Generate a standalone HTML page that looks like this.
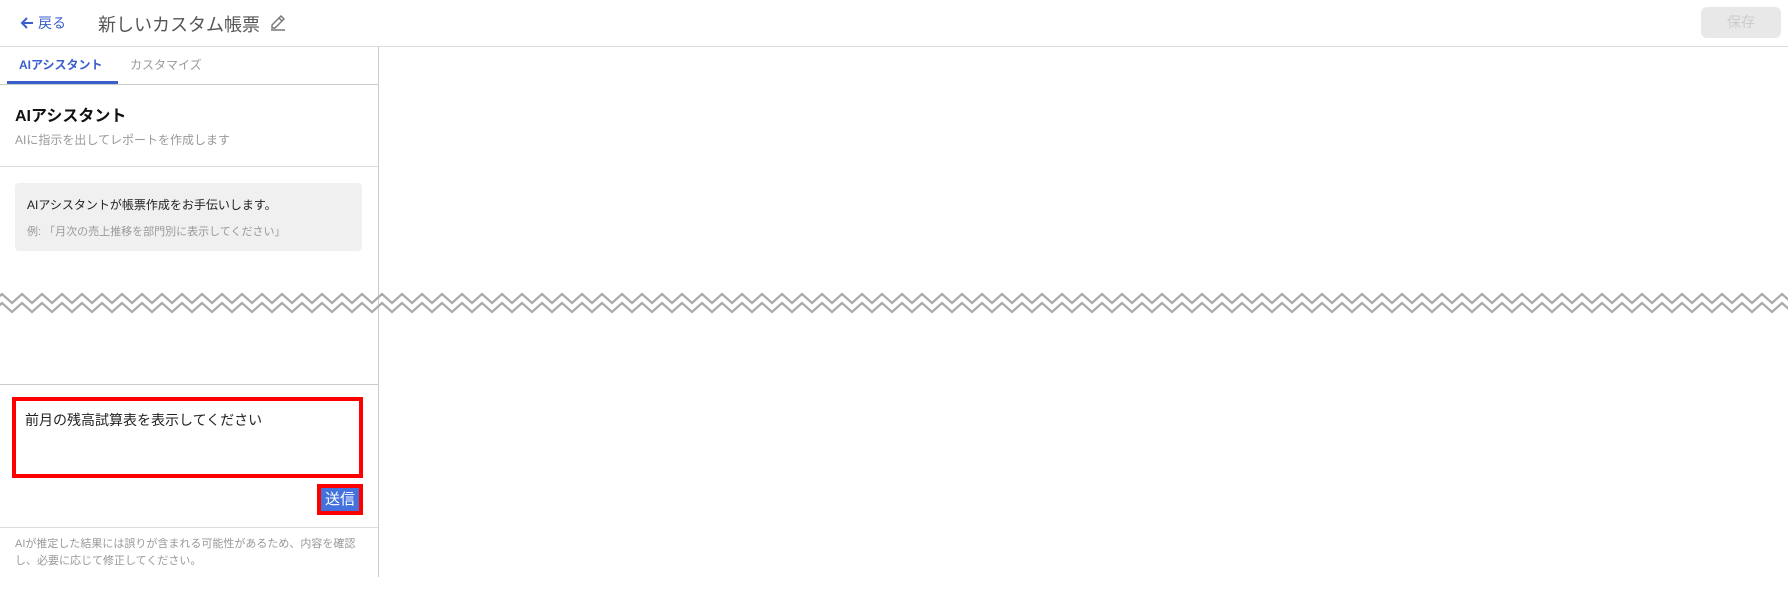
<!DOCTYPE html>
<html><head><meta charset="utf-8"><style>
*{margin:0;padding:0;box-sizing:border-box}
body{width:1788px;height:591px;background:#fff;position:relative;overflow:hidden;font-family:"Liberation Sans","Noto Sans CJK JP",sans-serif}
.a{position:absolute;white-space:nowrap}
</style></head><body>
<svg class="a" style="left:19px;top:15px" width="16" height="16" viewBox="0 0 16 16"><path d="M14 8 H3 M8 3 L3 8 L8 13" fill="none" stroke="#3a5fcd" stroke-width="2"/></svg>
<div class="a" style="left:38px;top:13px;font-size:14px;color:#3a5fcd">戻る</div>
<div class="a" style="left:98px;top:11px;font-size:18px;color:#555">新しいカスタム帳票</div>
<svg class="a" style="left:268px;top:13px" width="20" height="20" viewBox="0 0 20 20"><path d="M4 15 L4 12 L13 3 L16 6 L7 15 Z M11 5 L14 8 M3 17 L17 17" fill="none" stroke="#777" stroke-width="1.4"/></svg>
<div class="a" style="left:1701px;top:7px;width:80px;height:31px;background:#e8e8e8;border-radius:6px;color:#ccc;font-size:14px;text-align:center;line-height:31px">保存</div>
<div class="a" style="left:0;top:46px;width:1788px;height:1px;background:#ddd"></div>
<div class="a" style="left:378px;top:46px;width:1px;height:531px;background:#ccc"></div>
<div class="a" style="left:19px;top:56px;font-size:12px;font-weight:bold;color:#3a5fcd">AIアシスタント</div>
<div class="a" style="left:130px;top:56px;font-size:12px;color:#999">カスタマイズ</div>
<div class="a" style="left:0;top:84px;width:378px;height:1px;background:#ccc"></div>
<div class="a" style="left:7px;top:81px;width:111px;height:3px;background:#3a5fcd"></div>
<div class="a" style="left:15px;top:102px;font-size:16px;font-weight:bold;color:#111">AIアシスタント</div>
<div class="a" style="left:15px;top:131px;font-size:12px;color:#999">AIに指示を出してレポートを作成します</div>
<div class="a" style="left:0;top:166px;width:378px;height:1px;background:#ddd"></div>
<div class="a" style="left:15px;top:183px;width:347px;height:68px;background:#f0f0f0;border-radius:4px"></div>
<div class="a" style="left:27px;top:196px;font-size:12px;color:#222">AIアシスタントが帳票作成をお手伝いします。</div>
<div class="a" style="left:27px;top:223px;font-size:11px;color:#999">例: 「月次の売上推移を部門別に表示してください」</div>
<svg class="a" style="left:0;top:290px" width="1788" height="30">
<polyline id="z" fill="none" stroke="#aaa" stroke-width="2.2" points="-8,13 2,4 12,13 22,4 32,13 42,4 52,13 62,4 72,13 82,4 92,13 102,4 112,13 122,4 132,13 142,4 152,13 162,4 172,13 182,4 192,13 202,4 212,13 222,4 232,13 242,4 252,13 262,4 272,13 282,4 292,13 302,4 312,13 322,4 332,13 342,4 352,13 362,4 372,13 382,4 392,13 402,4 412,13 422,4 432,13 442,4 452,13 462,4 472,13 482,4 492,13 502,4 512,13 522,4 532,13 542,4 552,13 562,4 572,13 582,4 592,13 602,4 612,13 622,4 632,13 642,4 652,13 662,4 672,13 682,4 692,13 702,4 712,13 722,4 732,13 742,4 752,13 762,4 772,13 782,4 792,13 802,4 812,13 822,4 832,13 842,4 852,13 862,4 872,13 882,4 892,13 902,4 912,13 922,4 932,13 942,4 952,13 962,4 972,13 982,4 992,13 1002,4 1012,13 1022,4 1032,13 1042,4 1052,13 1062,4 1072,13 1082,4 1092,13 1102,4 1112,13 1122,4 1132,13 1142,4 1152,13 1162,4 1172,13 1182,4 1192,13 1202,4 1212,13 1222,4 1232,13 1242,4 1252,13 1262,4 1272,13 1282,4 1292,13 1302,4 1312,13 1322,4 1332,13 1342,4 1352,13 1362,4 1372,13 1382,4 1392,13 1402,4 1412,13 1422,4 1432,13 1442,4 1452,13 1462,4 1472,13 1482,4 1492,13 1502,4 1512,13 1522,4 1532,13 1542,4 1552,13 1562,4 1572,13 1582,4 1592,13 1602,4 1612,13 1622,4 1632,13 1642,4 1652,13 1662,4 1672,13 1682,4 1692,13 1702,4 1712,13 1722,4 1732,13 1742,4 1752,13 1762,4 1772,13 1782,4 1792,13"/>
<use href="#z" y="9"/>
</svg>
<div class="a" style="left:0;top:384px;width:378px;height:1px;background:#ccc"></div>
<div class="a" style="left:12px;top:397px;width:351px;height:81px;border:4px solid #f00;background:#fff"></div>
<div class="a" style="left:25px;top:410px;font-size:14px;color:#222">前月の残高試算表を表示してください</div>
<div class="a" style="left:317px;top:484px;width:46px;height:31px;border:4px solid #f00;background:#4472dd;color:#fff;font-size:15px;text-align:center;line-height:23px">送信</div>
<div class="a" style="left:0;top:527px;width:378px;height:1px;background:#ddd"></div>
<div class="a" style="left:15px;top:536px;font-size:11px;line-height:17px;color:#999">AIが推定した結果には誤りが含まれる可能性があるため、内容を確認<br>し、必要に応じて修正してください。</div>
</body></html>
